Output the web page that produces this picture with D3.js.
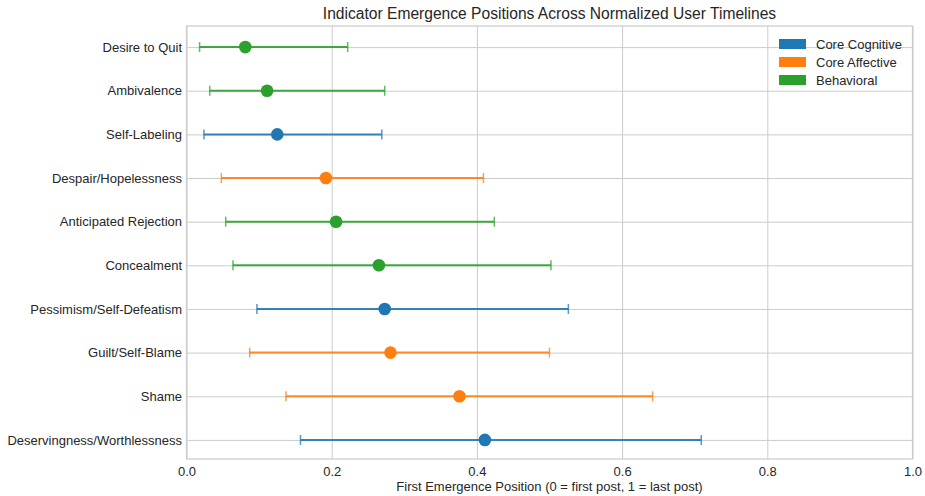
<!DOCTYPE html>
<html>
<head>
<meta charset="utf-8">
<script src="https://cdn.jsdelivr.net/npm/d3@7"></script>
<style>
  body { margin: 0; background: #fff; }
  svg text { font-family: "Liberation Sans", Arial, sans-serif; fill: #262626; }
</style>
</head>
<body>
<div id="chart"></div>
<script>
// indicators top to bottom
var indicators = ["Desire to Quit", "Ambivalence", "Self-Labeling", "Despair/Hopelessness",
  "Anticipated Rejection", "Concealment", "Pessimism/Self-Defeatism", "Guilt/Self-Blame",
  "Shame", "Deservingness/Worthlessness"];
var groups = ["Behavioral", "Behavioral", "Core Cognitive", "Core Affective",
  "Behavioral", "Behavioral", "Core Cognitive", "Core Affective",
  "Core Affective", "Core Cognitive"];
var medians = [0.081, 0.111, 0.125, 0.192, 0.206, 0.265, 0.273, 0.281, 0.376, 0.411];
var lower   = [0.018, 0.032, 0.024, 0.048, 0.054, 0.064, 0.097, 0.087, 0.137, 0.157];
var upper   = [0.222, 0.273, 0.269, 0.409, 0.424, 0.502, 0.526, 0.500, 0.642, 0.709];
var legendGroups = ["Core Cognitive", "Core Affective", "Behavioral"];
var groupColors = ["#1f77b4", "#ff7f0e", "#2ca02c"];
var xTicks = [0, 0.2, 0.4, 0.6, 0.8, 1.0];

var W = 925, H = 496;
var margin = {top: 26, right: 12.5, bottom: 37, left: 186.5};
var w = W - margin.left - margin.right, h = H - margin.top - margin.bottom;

var svg = d3.select("#chart").append("svg").attr("width", W).attr("height", H);
var g = svg.append("g").attr("transform", "translate(" + margin.left + "," + margin.top + ")");

var x = d3.scaleLinear().domain([0, 1]).range([0, w]);
var y = d3.scalePoint().domain(indicators).range([1, h + 1]).padding(0.46);
var color = d3.scaleOrdinal().domain(legendGroups).range(groupColors);

// grid via axes
var xAxis = g.append("g").attr("transform", "translate(0," + h + ")")
  .call(d3.axisBottom(x).tickValues(xTicks).tickFormat(d3.format(".1f")).tickSize(-h).tickPadding(7.5));
var yAxis = g.append("g")
  .call(d3.axisLeft(y).tickSize(-w).tickPadding(4.5));
[xAxis, yAxis].forEach(function(a) {
  a.select(".domain").remove();
  a.selectAll("line").attr("stroke", "#cccccc").attr("stroke-width", 1);
  a.selectAll("text").style("font-size", "13px").attr("fill", "#262626");
});

g.append("rect").attr("width", w).attr("height", h)
  .attr("fill", "none").attr("stroke", "#cccccc").attr("stroke-width", 1.25);

var rows = indicators.map(function(d, i) {
  return {name: d, group: groups[i], med: medians[i], lo: lower[i], hi: upper[i]};
});

var cap = 5;
var bars = g.selectAll(".bar").data(rows).enter().append("g").attr("class", "bar")
  .attr("stroke", function(d) { return color(d.group); })
  .attr("stroke-width", 2);
bars.append("line")
  .attr("x1", function(d) { return x(d.lo); })
  .attr("x2", function(d) { return x(d.hi); })
  .attr("y1", function(d) { return y(d.name); })
  .attr("y2", function(d) { return y(d.name); })
  .attr("stroke-opacity", 0.9);
bars.selectAll(".cap").data(function(d) { return [{v: d.lo, n: d.name}, {v: d.hi, n: d.name}]; })
  .enter().append("line")
  .attr("stroke-width", 1.5).attr("stroke-opacity", 0.75)
  .attr("x1", function(d) { return x(d.v); })
  .attr("x2", function(d) { return x(d.v); })
  .attr("y1", function(d) { return y(d.n) - cap; })
  .attr("y2", function(d) { return y(d.n) + cap; });
g.selectAll(".dot").data(rows).enter().append("circle")
  .attr("cx", function(d) { return x(d.med); })
  .attr("cy", function(d) { return y(d.name); })
  .attr("r", 6.3)
  .attr("fill", function(d) { return color(d.group); });

// title and label
svg.append("text").attr("x", margin.left + w / 2).attr("y", 19)
  .attr("text-anchor", "middle").style("font-size", "15.6px")
  .text("Indicator Emergence Positions Across Normalized User Timelines");
svg.append("text").attr("x", margin.left + w / 2).attr("y", 491)
  .attr("text-anchor", "middle").style("font-size", "13px")
  .text("First Emergence Position (0 = first post, 1 = last post)");

// legend, no frame
var leg = svg.append("g").attr("transform", "translate(779,39)");
var li = leg.selectAll("g").data(legendGroups).enter().append("g")
  .attr("transform", function(d, i) { return "translate(0," + i * 18 + ")"; });
li.append("rect").attr("width", 27).attr("height", 10)
  .attr("fill", function(d) { return color(d); });
li.append("text").attr("x", 37).attr("y", 5).attr("dy", "0.35em")
  .style("font-size", "13px").text(function(d) { return d; });
</script>
</body>
</html>
